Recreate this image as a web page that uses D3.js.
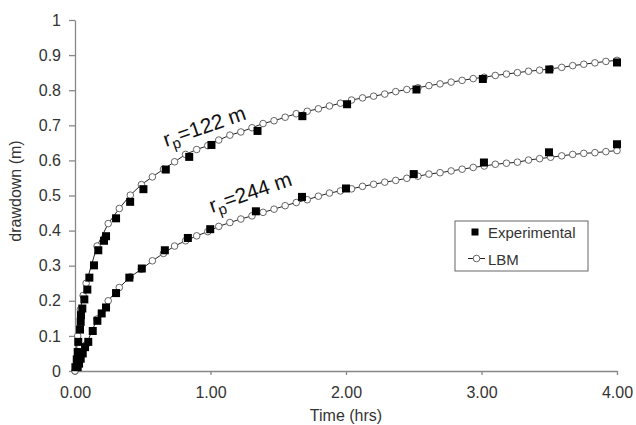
<!DOCTYPE html>
<html>
<head>
<meta charset="utf-8">
<script src="https://cdn.jsdelivr.net/npm/d3@7"></script>
<style>
  body { margin: 0; background: #fff; }
  text { font-family: "Liberation Sans", Arial, sans-serif; fill: #333; }
</style>
</head>
<body>
<div id="graph"></div>
<script>
"use strict";

// Experimental drawdown, r_p = 122 m
const expTime122 = [0.003, 0.013, 0.020, 0.024, 0.037, 0.042, 0.044, 0.054, 0.069, 0.091, 0.106,
  0.140, 0.172, 0.214, 0.229, 0.303, 0.407, 0.505, 0.670, 0.843, 1.007, 1.347, 1.678, 2.008,
  2.52, 3.01, 3.50, 4.00];
const expDraw122 = [0.011, 0.033, 0.054, 0.083, 0.118, 0.140, 0.159, 0.178, 0.204, 0.232, 0.266,
  0.301, 0.344, 0.371, 0.384, 0.435, 0.482, 0.518, 0.574, 0.610, 0.644, 0.684, 0.726, 0.760,
  0.802, 0.832, 0.859, 0.879];

// Experimental drawdown, r_p = 244 m
const expTime244 = [0.020, 0.030, 0.042, 0.057, 0.074, 0.098, 0.131, 0.165, 0.197, 0.229, 0.303,
  0.401, 0.493, 0.663, 0.833, 0.998, 1.335, 1.675, 2.00, 2.50, 3.018, 3.498, 4.00];
const expDraw244 = [0.011, 0.021, 0.035, 0.050, 0.068, 0.083, 0.114, 0.143, 0.164, 0.181, 0.222,
  0.266, 0.292, 0.344, 0.379, 0.404, 0.455, 0.496, 0.520, 0.561, 0.594, 0.623, 0.646];

// LBM model output times (hrs)
const lbmTime = [0.082, 0.163, 0.245, 0.327, 0.408, 0.490, 0.571, 0.653, 0.735, 0.816, 0.898,
  0.980, 1.061, 1.143, 1.224, 1.306, 1.388, 1.469, 1.551, 1.633, 1.714, 1.796, 1.878, 1.959,
  2.041, 2.122, 2.204, 2.286, 2.367, 2.449, 2.531, 2.612, 2.694, 2.776, 2.857, 2.939, 3.020,
  3.102, 3.184, 3.265, 3.347, 3.429, 3.510, 3.592, 3.673, 3.755, 3.837, 3.918, 4.000];
const lbmDraw122 = [0.250, 0.356, 0.420, 0.463, 0.501, 0.531, 0.553, 0.575, 0.596, 0.617, 0.631,
  0.642, 0.658, 0.672, 0.681, 0.693, 0.705, 0.713, 0.723, 0.733, 0.740, 0.747, 0.755, 0.763,
  0.772, 0.778, 0.783, 0.789, 0.796, 0.802, 0.807, 0.813, 0.818, 0.823, 0.828, 0.833, 0.837,
  0.842, 0.846, 0.850, 0.854, 0.857, 0.861, 0.865, 0.870, 0.874, 0.878, 0.882, 0.885];
const lbmDraw244 = [0.075, 0.148, 0.200, 0.238, 0.268, 0.290, 0.314, 0.335, 0.356, 0.371, 0.385,
  0.397, 0.412, 0.423, 0.433, 0.442, 0.452, 0.461, 0.471, 0.480, 0.488, 0.498, 0.507, 0.513,
  0.519, 0.526, 0.532, 0.538, 0.543, 0.549, 0.555, 0.561, 0.565, 0.570, 0.575, 0.580, 0.584,
  0.589, 0.592, 0.595, 0.601, 0.605, 0.609, 0.613, 0.617, 0.620, 0.622, 0.625, 0.628];
// early LBM output near the origin
const lbmEarlyTime122 = [0, 0.02, 0.04, 0.06];
const lbmEarlyDraw122 = [0, 0.10, 0.175, 0.215];
const lbmEarlyTime244 = [0];
const lbmEarlyDraw244 = [0];

const yTicks = [0, 0.1, 0.2, 0.3, 0.4, 0.5, 0.6, 0.7, 0.8, 0.9, 1];
const yTickLabels = ["0", "0.1", "0.2", "0.3", "0.4", "0.5", "0.6", "0.7", "0.8", "0.9", "1"];
const xTicks = [0, 1, 2, 3, 4];
const xTickLabels = ["0.00", "1.00", "2.00", "3.00", "4.00"];

const w = 636;
const h = 425;
const margin = { top: 20, right: 19, bottom: 54, left: 75 };

const svg = d3.select("#graph").append("svg").attr("width", w).attr("height", h);

const x = d3.scaleLinear().domain([0, 4]).range([margin.left, w - margin.right]);
const y = d3.scaleLinear().domain([0, 1]).range([h - margin.bottom, margin.top]);

// Axes
const yAxis = svg.append("g")
  .attr("transform", `translate(${margin.left},0)`)
  .call(d3.axisLeft(y).tickValues(yTicks).tickSize(6).tickPadding(8).tickSizeOuter(0)
    .tickFormat((d, i) => yTickLabels[i]));

const xAxis = svg.append("g")
  .attr("transform", `translate(0,${h - margin.bottom})`)
  .call(d3.axisBottom(x).tickValues(xTicks).tickSize(4).tickPadding(12).tickSizeOuter(0)
    .tickFormat((d, i) => xTickLabels[i]));

[xAxis, yAxis].forEach((a) => {
  a.select(".domain").attr("stroke", "#888").attr("stroke-width", 1.3);
  a.selectAll(".tick line").attr("stroke", "#888").attr("stroke-width", 1.3);
  a.selectAll(".tick text").attr("font-size", 16).attr("font-family", "Liberation Sans, Arial, sans-serif").attr("fill", "#333");
});

svg.append("text")
  .attr("x", x(2)).attr("y", 421)
  .attr("text-anchor", "middle").attr("font-size", 16)
  .text("Time (hrs)");

svg.append("text")
  .attr("transform", "translate(21,191) rotate(-90)")
  .attr("text-anchor", "middle").attr("font-size", 16)
  .text("drawdown (m)");

// LBM curves
const line = d3.line().x((d) => x(d[0])).y((d) => y(d[1]));

const lbm122 = lbmEarlyTime122.map((t, i) => [t, lbmEarlyDraw122[i]])
  .concat(lbmTime.map((t, i) => [t, lbmDraw122[i]]));
const lbm244 = lbmEarlyTime244.map((t, i) => [t, lbmEarlyDraw244[i]])
  .concat(lbmTime.map((t, i) => [t, lbmDraw244[i]]));

[lbm122, lbm244].forEach((series) => {
  svg.append("path")
    .datum(series)
    .attr("fill", "none")
    .attr("stroke", "#222")
    .attr("stroke-width", 1)
    .attr("d", line);

  svg.append("g")
    .selectAll("circle")
    .data(series)
    .join("circle")
    .attr("cx", (d) => x(d[0]))
    .attr("cy", (d) => y(d[1]))
    .attr("r", 3.3)
    .attr("fill", "#fff")
    .attr("stroke", "#555")
    .attr("stroke-width", 0.9);
});

// Experimental squares
const exp122 = expTime122.map((t, i) => [t, expDraw122[i]]);
const exp244 = expTime244.map((t, i) => [t, expDraw244[i]]);
const sq = 8;

[exp122, exp244].forEach((series) => {
  svg.append("g")
    .selectAll("rect")
    .data(series)
    .join("rect")
    .attr("x", (d) => x(d[0]) - sq / 2)
    .attr("y", (d) => y(d[1]) - sq / 2)
    .attr("width", sq)
    .attr("height", sq)
    .attr("fill", "#000");
});

// Curve annotations
const annotate = (tx, ty, label) => {
  const t = svg.append("text")
    .attr("transform", `translate(${tx},${ty}) rotate(-19)`)
    .attr("font-family", "Lato, 'Open Sans', sans-serif")
    .attr("font-size", 21)
    .style("fill", "#111");
  t.append("tspan").text("r");
  t.append("tspan").attr("font-size", 15).attr("dy", 5).text("p");
  t.append("tspan").attr("dy", -5).text(label);
};
annotate(166, 147, "=122 m");
annotate(212, 213, "=244 m");

// Legend
const legend = svg.append("g");
legend.append("rect")
  .attr("x", 455).attr("y", 221).attr("width", 133).attr("height", 50)
  .attr("fill", "#fff").attr("stroke", "#666").attr("stroke-width", 1);
legend.append("rect")
  .attr("x", 475 - 3.5).attr("y", 232 - 3.5).attr("width", 7).attr("height", 7)
  .attr("fill", "#000");
legend.append("text").attr("x", 488).attr("y", 238).attr("font-size", 15).text("Experimental");
legend.append("line")
  .attr("x1", 468).attr("x2", 485).attr("y1", 258.5).attr("y2", 258.5)
  .attr("stroke", "#222").attr("stroke-width", 1);
legend.append("circle")
  .attr("cx", 476.5).attr("cy", 258.5).attr("r", 3.3)
  .attr("fill", "#fff").attr("stroke", "#555").attr("stroke-width", 0.9);
legend.append("text").attr("x", 488).attr("y", 264.5).attr("font-size", 15).text("LBM");
</script>
</body>
</html>
